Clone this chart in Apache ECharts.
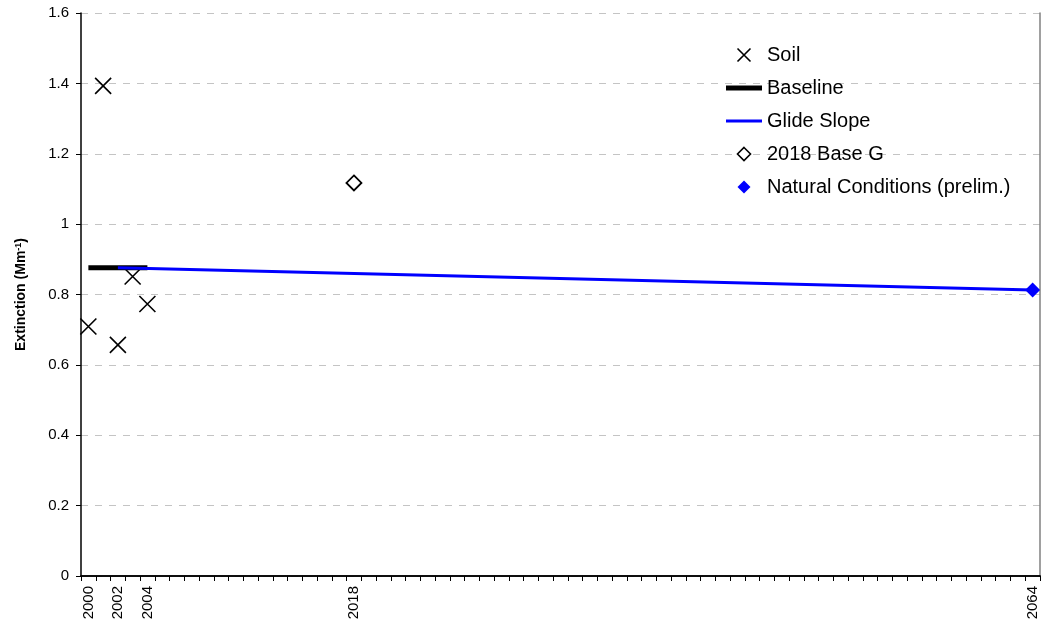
<!DOCTYPE html>
<html>
<head>
<meta charset="utf-8">
<script src="https://cdn.jsdelivr.net/npm/echarts@6/dist/echarts.min.js"></script>
<style>
  html, body { margin: 0; padding: 0; background: #fff; }
  #chart { width: 1041px; height: 627px; }
</style>
</head>
<body>
<div id="chart"></div>
<script>
// ---- data ----
const firstYear = 2000, lastYear = 2064;
const categories = [];
for (let y = firstYear; y <= lastYear; y++) categories.push(String(y));
const shownXLabels = ['2000', '2002', '2004', '2018', '2064'];
const yTicks = [0, 0.2, 0.4, 0.6, 0.8, 1, 1.2, 1.4, 1.6];

const soilYears = ['2000', '2001', '2002', '2003', '2004'];
const soilValues = [0.709, 1.393, 0.657, 0.851, 0.773];

const baselineYears = ['2000', '2004'];
const baselineValues = [0.876, 0.876];

const glideYears = ['2002', '2064'];
const glideValues = [0.876, 0.813];

const baseGYears = ['2018'];
const baseGValues = [1.117];

const naturalYears = ['2064'];
const naturalValues = [0.813];

const pairs = (xs, ys) => xs.map((x, i) => [x, ys[i]]);

const FONT = 'Liberation Sans, Arial, sans-serif';
const X_PATH = 'path://M0,0L10,10M10,0L0,10';
const DIAMOND_PATH = 'path://M5,0L10,5L5,10L0,5Z';
const THICK_LINE_PATH = 'path://M0,0L36,0L36,5L0,5Z';
const THIN_LINE_PATH = 'path://M0,0L36,0L36,3L0,3Z';

const chart = echarts.init(document.getElementById('chart'), null, { renderer: 'canvas' });
chart.setOption({
  animation: false,
  backgroundColor: '#fff',
  grid: { left: 81, right: 1, top: 13, bottom: 51, containLabel: false },
  legend: {
    orient: 'vertical',
    left: 721,
    top: 40,
    itemWidth: 36,
    itemHeight: 13,
    itemGap: 13,
    selectedMode: false,
    symbolKeepAspect: true,
    textStyle: { fontFamily: FONT, fontSize: 20, color: '#000' },
    data: [
      { name: 'Soil', icon: X_PATH, itemStyle: { color: '#000', borderColor: '#000', borderWidth: 1.6, opacity: 1 } },
      { name: 'Baseline', icon: THICK_LINE_PATH, itemStyle: { color: '#000', borderWidth: 0, opacity: 1 } },
      { name: 'Glide Slope', icon: THIN_LINE_PATH, itemStyle: { color: '#0000ff', borderWidth: 0, opacity: 1 } },
      { name: '2018 Base G', icon: DIAMOND_PATH, itemStyle: { color: '#fff', borderColor: '#000', borderWidth: 1.6, opacity: 1 } },
      { name: 'Natural Conditions (prelim.)', icon: DIAMOND_PATH, itemStyle: { color: '#0000ff', borderWidth: 0, opacity: 1 } }
    ]
  },
  xAxis: [
    {
      type: 'category',
      data: categories,
      boundaryGap: true,
      position: 'bottom',
      axisLine: { show: true, lineStyle: { color: '#000', width: 1.5 } },
      axisTick: { show: true, interval: 0, length: 5, inside: false, lineStyle: { color: '#000', width: 1 } },
      axisLabel: {
        interval: (idx, val) => shownXLabels.indexOf(val) >= 0,
        rotate: 90,
        margin: 10,
        fontFamily: FONT,
        fontSize: 15,
        color: '#000'
      },
      splitLine: { show: false }
    },
    {
      type: 'category',
      data: categories,
      position: 'top',
      axisLine: { show: true, lineStyle: { color: '#000', width: 1.5 } },
      axisTick: { show: false },
      axisLabel: { show: false },
      splitLine: { show: false }
    }
  ],
  yAxis: [
    {
      type: 'value',
      min: yTicks[0],
      max: yTicks[yTicks.length - 1],
      interval: 0.2,
      position: 'left',
      name: 'Extinction (Mm{sup|-1})',
      nameLocation: 'middle',
      nameGap: 53,
      nameTextStyle: {
        fontFamily: FONT,
        fontSize: 14,
        fontWeight: 'bold',
        color: '#000',
        rich: {
          sup: { fontFamily: FONT, fontSize: 9, fontWeight: 'bold', color: '#000', verticalAlign: 'top', lineHeight: 10 }
        }
      },
      axisLine: { show: true, lineStyle: { color: '#000', width: 1.5 } },
      axisTick: { show: true, length: 5, inside: false, lineStyle: { color: '#000', width: 1 } },
      axisLabel: {
        margin: 12,
        fontFamily: FONT,
        fontSize: 15,
        color: '#000',
        formatter: v => String(Math.round(v * 10) / 10)
      },
      splitLine: { show: true, lineStyle: { color: '#c4c4c4', width: 1, type: [7, 7] } }
    },
    {
      type: 'value',
      min: yTicks[0],
      max: yTicks[yTicks.length - 1],
      interval: 0.2,
      position: 'right',
      axisLine: { show: true, lineStyle: { color: '#808080', width: 1.5 } },
      axisTick: { show: false },
      axisLabel: { show: false },
      splitLine: { show: false }
    }
  ],
  series: [
    {
      name: 'Soil',
      type: 'scatter',
      data: pairs(soilYears, soilValues),
      symbol: X_PATH,
      symbolSize: 16,
      symbolKeepAspect: true,
      itemStyle: { color: '#000', borderColor: '#000', borderWidth: 1.6, opacity: 1 },
      emphasis: { disabled: true },
      z: 3
    },
    {
      name: 'Baseline',
      type: 'line',
      data: pairs(baselineYears, baselineValues),
      symbol: 'none',
      lineStyle: { color: '#000', width: 5 },
      itemStyle: { color: '#000' },
      emphasis: { disabled: true },
      z: 4
    },
    {
      name: 'Glide Slope',
      type: 'line',
      data: pairs(glideYears, glideValues),
      symbol: 'none',
      lineStyle: { color: '#0000ff', width: 3 },
      itemStyle: { color: '#0000ff' },
      emphasis: { disabled: true },
      z: 5
    },
    {
      name: '2018 Base G',
      type: 'scatter',
      data: pairs(baseGYears, baseGValues),
      symbol: DIAMOND_PATH,
      symbolSize: 15,
      symbolKeepAspect: true,
      itemStyle: { color: '#fff', borderColor: '#000', borderWidth: 1.8, opacity: 1 },
      emphasis: { disabled: true },
      z: 6
    },
    {
      name: 'Natural Conditions (prelim.)',
      type: 'scatter',
      data: pairs(naturalYears, naturalValues),
      symbol: DIAMOND_PATH,
      symbolSize: 15,
      symbolKeepAspect: true,
      itemStyle: { color: '#0000ff', opacity: 1 },
      emphasis: { disabled: true },
      z: 7
    }
  ]
});
</script>
</body>
</html>
